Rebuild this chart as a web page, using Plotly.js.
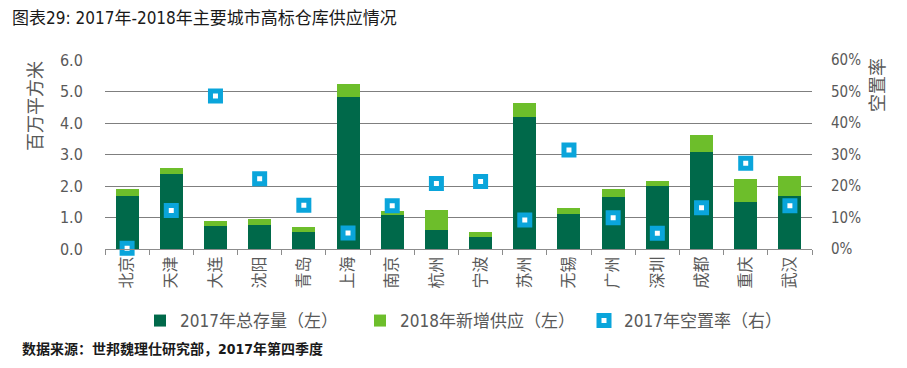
<!DOCTYPE html>
<html>
<head>
<meta charset="utf-8">
<script src="https://cdn.plot.ly/plotly-3.0.1.min.js"></script>
<style>
html,body{margin:0;padding:0;background:#fff;}
#chart{width:907px;height:368px;}
</style>
</head>
<body>
<div id="chart"></div>
<script>
const cities = ["北京","天津","大连","沈阳","青岛","上海","南京","杭州","宁波","苏州","无锡","广州","深圳","成都","重庆","武汉"];
const stock2017 = [1.68,2.38,0.73,0.77,0.53,4.84,1.07,0.59,0.39,4.18,1.11,1.66,2.00,3.08,1.49,1.68];
const newSupply2018 = [0.21,0.20,0.17,0.19,0.17,0.40,0.14,0.64,0.14,0.45,0.20,0.25,0.17,0.54,0.74,0.64];
const vacancy2017 = [0.002,0.122,0.486,0.223,0.139,0.051,0.137,0.208,0.214,0.092,0.314,0.099,0.050,0.131,0.272,0.137];
const leftTicks = [0,1,2,3,4,5,6];
const rightTicks = [0,0.1,0.2,0.3,0.4,0.5,0.6];

const FONT = "'Liberation Sans Narrow', 'DejaVu Sans Condensed', 'Noto Sans CJK SC', sans-serif";
const GRAY = "#595959";

const traces = [
  {type:"bar", name:"2017年总存量（左）", x:cities, y:stock2017, marker:{color:"#00694A"}, hoverinfo:"skip", legend:"legend"},
  {type:"bar", name:"2018年新增供应（左）", x:cities, y:newSupply2018, marker:{color:"#6DBE2B"}, hoverinfo:"skip", legend:"legend2"},
  {type:"scatter", mode:"markers", name:"2017年空置率（右）", x:cities, y:vacancy2017, yaxis:"y2", cliponaxis:false,
   marker:{symbol:"square", size:10, color:"#ffffff", line:{color:"#0AA5DB", width:5}}, hoverinfo:"skip", legend:"legend3"}
];

function leg(px){
  return {orientation:"h", x:(px-105)/707, xanchor:"left", y:-(321-249)/189, yanchor:"middle",
          font:{family:FONT, size:17, color:GRAY}, itemwidth:30, bgcolor:"rgba(0,0,0,0)"};
}

const layout = {
  width:907, height:368,
  margin:{l:105, r:95, t:60, b:119, autoexpand:false},
  paper_bgcolor:"#fff", plot_bgcolor:"#fff",
  font:{family:FONT, color:GRAY, size:16},
  barmode:"stack", bargap:0.48,
  showlegend:true,
  legend:leg(140), legend2:leg(360), legend3:leg(584),
  xaxis:{type:"category", range:[-0.5,15.5], autorange:false, automargin:false, tickangle:-90,
         tickfont:{family:FONT, size:16, color:GRAY},
         showline:true, linecolor:"#8c8c8c", linewidth:1, ticks:"outside", tickson:"boundaries",
         ticklen:5, tickcolor:"#8c8c8c", showgrid:false, zeroline:false, fixedrange:true},
  yaxis:{range:[0,6], autorange:false, automargin:false, tickvals:leftTicks, tickformat:".1f", showgrid:true, gridcolor:"#7f7f7f", gridwidth:1,
         zeroline:false, showline:false, ticks:"outside", ticklen:18, tickcolor:"rgba(0,0,0,0)",
         tickfont:{family:FONT, size:16, color:GRAY}, fixedrange:true},
  yaxis2:{range:[0,0.6], autorange:false, automargin:false, tickvals:rightTicks, tickformat:".0%", overlaying:"y", side:"right", showgrid:false,
          zeroline:false, showline:false, ticks:"outside", ticklen:15, tickcolor:"rgba(0,0,0,0)",
          tickfont:{family:FONT, size:15, color:GRAY}, fixedrange:true},
  annotations:[
    {text:"图表29: 2017年-2018年主要城市高标仓库供应情况", xref:"paper", yref:"paper", x:-105/707, y:1+42/189,
     xanchor:"left", yanchor:"middle", xshift:10, showarrow:false, font:{family:FONT, size:17, color:"#1a1a1a"}},
    {text:"<b>数据来源：世邦魏理仕研究部，2017年第四季度</b>", xref:"paper", yref:"paper", x:-105/707, y:-100/189,
     xanchor:"left", yanchor:"middle", xshift:20, showarrow:false, font:{family:FONT, size:14, color:"#1a1a1a"}},
    {text:"百万平方米", xref:"paper", yref:"paper", x:-70/707, y:(249-106)/189, xanchor:"center", yanchor:"middle",
     textangle:-90, showarrow:false, font:{family:FONT, size:18, color:GRAY}},
    {text:"空置率", xref:"paper", yref:"paper", x:1+65/707, y:(249-85)/189, xanchor:"center", yanchor:"middle",
     textangle:-90, showarrow:false, font:{family:FONT, size:18, color:GRAY}}
  ]
};

Plotly.newPlot("chart", traces, layout, {displayModeBar:false, staticPlot:true});
</script>
</body>
</html>
